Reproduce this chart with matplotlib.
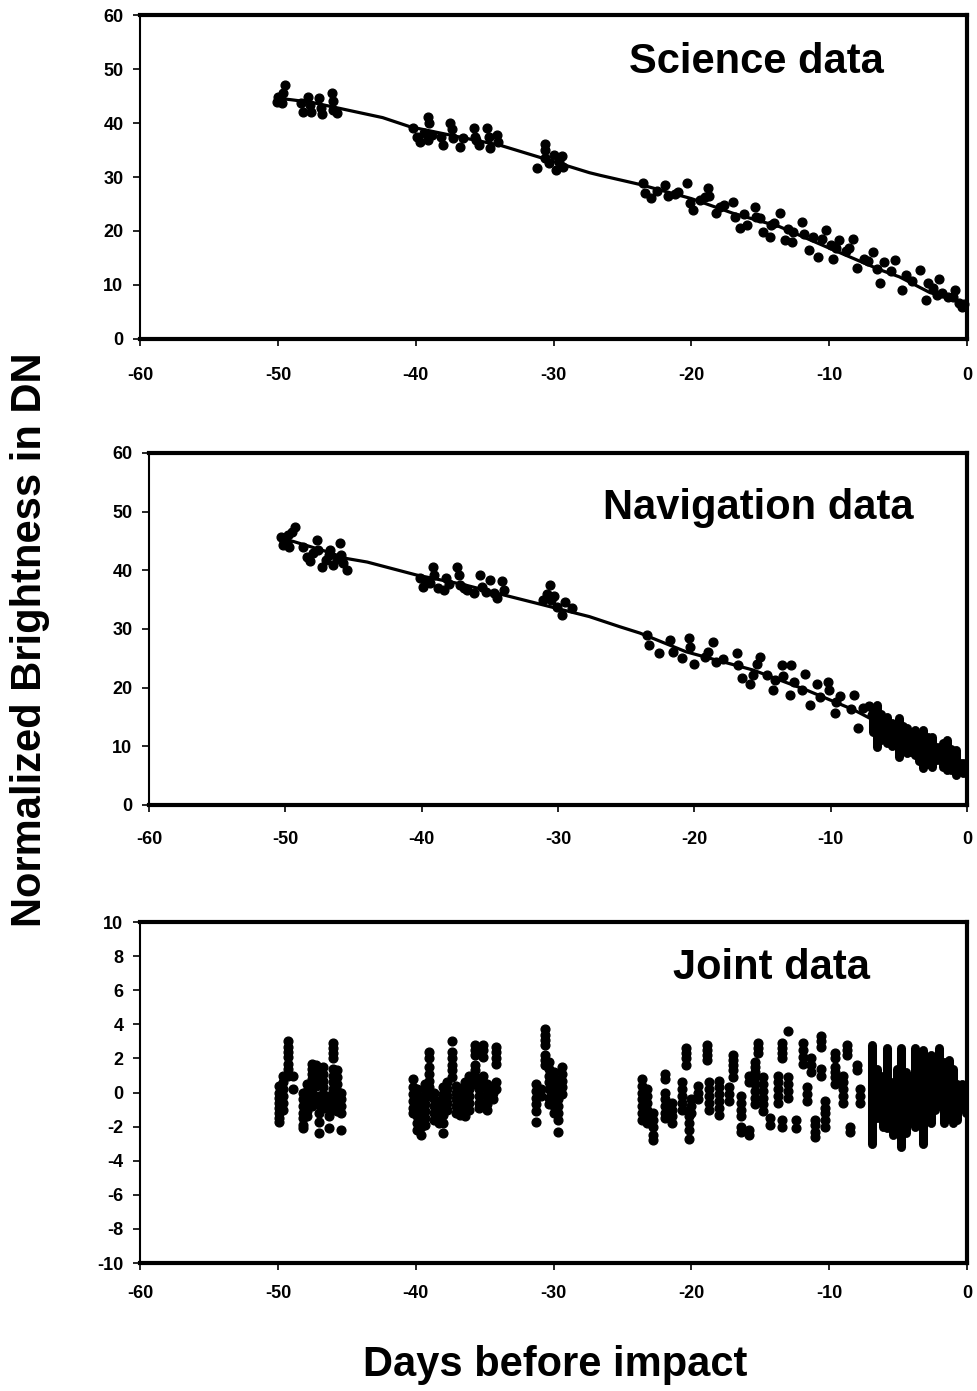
import matplotlib.pyplot as plt

plt.rcParams["font.family"] = ["Liberation Sans", "DejaVu Sans"]
plt.rcParams["font.weight"] = "bold"
plt.rcParams["axes.unicode_minus"] = False

day_ticks = [-60, -50, -40, -30, -20, -10, 0]
dn_ticks = [0, 10, 20, 30, 40, 50, 60]
joint_ticks = [-10, -8, -6, -4, -2, 0, 2, 4, 6, 8, 10]

# ---- science data (days before impact, DN) ----
sci_days = [
    -50.1, -50.0, -49.5, -49.6, -49.7, -48.3, -48.2, -47.8, -47.7, -47.6, -47.0, -46.9, -46.8, -46.1, -46.0, -46.0, -45.7,
    -40.2, -39.9, -39.7, -39.4, -39.1, -39.0, -39.1, -38.8, -38.2, -38.0, -37.5, -37.4, -37.3, -36.8, -36.6, -35.8, -35.7,
    -35.6, -35.4, -34.8, -34.7, -34.6, -34.1, -34.0,
    -31.2, -30.6, -30.6, -30.6, -30.3, -30.0, -29.8, -29.6, -29.4, -29.3,
    -23.5, -23.4, -22.9, -21.9, -21.7, -21.0, -20.3, -20.1, -19.9, -19.4, -18.8, -18.7, -18.2, -17.9, -17.0, -16.8, -16.5,
    -16.0, -15.4, -15.3, -14.8, -14.3, -14.2, -13.6, -13.2, -12.7, -12.6, -12.0, -11.5, -11.2, -10.8, -10.2, -9.9, -9.7,
    -9.3, -8.6, -8.3, -8.0, -7.5, -6.8, -6.3, -6.0, -5.2, -4.7, -4.4, -3.4, -3.0, -2.8, -2.2, -2.0, -1.4, -0.9, -0.6, -0.4,
    -22.5, -21.2, -19.0, -17.6, -16.2, -15.0, -14.0, -13.0, -11.8, -10.5, -9.5, -8.8, -7.2, -6.5, -5.5, -4.0, -2.5, -1.8,
    -1.0, -0.2,
]
sci_dn = [
    43.9, 44.9, 47.0, 45.5, 43.7, 43.7, 42.1, 44.9, 43.3, 42.1, 44.6, 42.8, 41.6, 45.5, 44.0, 42.5, 41.9,
    39.0, 37.4, 36.5, 38.1, 41.1, 40.0, 36.9, 37.8, 37.4, 36.0, 40.0, 38.8, 37.3, 35.6, 37.3, 39.0, 37.5,
    36.8, 35.9, 39.0, 37.5, 35.4, 37.8, 36.5,
    31.7, 36.2, 35.0, 33.6, 32.6, 34.0, 31.3, 32.8, 33.8, 31.9,
    28.8, 27.0, 26.1, 28.5, 26.4, 27.3, 28.8, 25.1, 23.9, 25.7, 27.9, 26.4, 23.3, 24.5, 25.4, 22.6, 20.5,
    21.1, 24.5, 22.6, 19.9, 18.9, 21.1, 23.3, 18.3, 18.0, 19.9, 21.7, 16.5, 18.9, 15.2, 20.2, 17.4, 14.9,
    18.3, 16.8, 18.6, 13.1, 14.9, 16.2, 10.3, 14.3, 14.6, 9.1, 11.9, 12.8, 7.2, 10.3, 8.1, 11.2, 7.8, 9.1, 6.6, 6.0,
    27.5, 26.8, 26.3, 24.9, 23.2, 22.5, 21.5, 20.4, 19.5, 18.5, 16.9, 16.3, 14.5, 13.0, 12.5, 10.8, 9.5, 8.5,
    7.8, 6.5,
]
sci_fit_days = [-50, -49, -47.5, -45.5, -42.4, -40.4, -37, -33.9, -31.2, -27.4, -26.6, -23.7, -20, -17,
                -13.6, -9.7, -6.3, -4.9, -2.7, -0.5, 0]
sci_fit_dn = [44.6, 44.3, 43.8, 42.7, 41.0, 39.3, 37.5, 35.9, 33.8, 30.8, 30.3, 28.6, 26.0, 23.3,
              20.8, 16.5, 12.8, 11.5, 8.6, 6.9, 6.3]

# ---- navigation data ----
nav_days = [
    -50.3, -50.2, -50.1, -49.8, -49.5, -49.3, -49.7, -48.7, -48.4, -48.2, -47.7, -47.6, -47.3, -46.8, -46.7, -46.5,
    -46.0, -45.9, -45.8, -45.5, -50.0, -49.9, -48.0, -47.0, -46.2,
    -40.1, -39.9, -39.6, -39.2, -39.1, -38.8, -38.4, -38.2, -37.4, -37.3, -37.2, -36.7, -36.2, -35.7, -35.6, -35.0,
    -34.7, -34.5, -34.1, -34.0, -39.4, -38.0, -36.9, -35.3,
    -31.1, -30.8, -30.6, -30.5, -30.1, -29.7, -29.5, -29.0, -30.3,
    -23.5, -23.3, -22.6, -21.8, -21.6, -20.9, -20.4, -20.3, -20.0, -19.2, -19.0, -18.6, -18.4, -17.9, -16.9, -16.8,
    -16.5, -15.9, -15.7, -15.4, -15.2, -14.7, -14.2, -14.1, -13.6, -13.5, -12.9, -13.0, -12.7, -12.1, -11.9, -11.5,
    -11.0, -10.8, -10.2, -10.1, -9.6, -9.3, -8.3, -8.5, -8.0, -7.6, -9.7, -7.2, -7.0,
]
nav_dn = [
    45.7, 44.3, 44.9, 46.0, 46.6, 47.4, 44.0, 44.0, 42.3, 41.5, 45.2, 43.5, 40.6, 42.6, 43.5, 40.9,
    44.6, 42.6, 41.3, 40.1, 45.2, 44.6, 42.9, 41.8, 41.9,
    38.6, 37.2, 38.0, 40.6, 39.2, 36.9, 36.6, 38.6, 40.6, 39.2, 37.5, 36.6, 36.1, 39.2, 37.2, 38.4,
    36.1, 35.2, 38.1, 36.6, 37.9, 37.7, 37.0, 36.3,
    34.9, 36.0, 37.5, 34.9, 33.8, 32.4, 34.6, 33.5, 35.6,
    29.0, 27.3, 25.9, 28.1, 26.1, 25.0, 28.4, 27.0, 24.1, 25.3, 26.1, 27.8, 24.4, 24.9, 25.9, 23.9,
    21.6, 20.7, 22.1, 24.1, 25.3, 22.2, 19.6, 21.3, 23.9, 21.9, 23.9, 18.7, 21.0, 19.6, 22.4, 17.0,
    20.7, 18.4, 21.0, 19.6, 17.6, 18.6, 18.7, 16.3, 13.1, 16.5, 15.6, 16.8, 15.4,
]
nav_fit_days = [-50, -49.4, -47, -45.5, -44.0, -40.4, -37, -34.0, -31.1, -27.7, -25.5, -24.0, -20.6,
                -15.7, -11.8, -8.3, -6.9, -3.4, 0]
nav_fit_dn = [45.2, 44.9, 43.2, 42.0, 41.4, 39.2, 37.6, 35.8, 34.1, 32.1, 30.4, 29.3, 26.1,
              23.0, 19.6, 16.2, 14.5, 10.5, 7.1]
# dense imaging in the last week (day, lowest DN, highest DN)
nav_band_days = [-6.9, -6.6, -6.3, -5.9, -5.5, -5.0, -4.7, -4.4, -4.1, -3.8, -3.5, -3.2, -2.9, -2.6,
                 -2.2, -1.8, -1.5, -1.2, -0.8, -0.3]
nav_band_lo = [12.5, 9.9, 11.0, 10.5, 10.0, 8.2, 9.5, 8.9, 9.0, 8.5, 7.5, 6.3, 7.0, 6.5,
               7.7, 6.5, 6.0, 6.0, 5.1, 5.4]
nav_band_hi = [16.5, 17.0, 15.5, 15.0, 14.0, 14.8, 13.5, 13.1, 12.5, 12.8, 12.0, 12.8, 11.5, 11.6,
               9.9, 10.5, 11.1, 9.5, 9.4, 7.1]

# ---- joint data: stacks of samples (day, [residuals]) ----
joint_stacks = [
    (-49.9, [0.4, 0.0, -0.3, -0.6, -0.9, -1.2, -1.5, -1.7]),
    (-49.6, [1.0, 0.6, 0.2, -0.2, -0.6, -1.0]),
    (-49.3, [3.0, 2.7, 2.4, 2.1, 1.7, 1.4, 1.0]),
    (-48.9, [1.0, 0.2]),
    (-48.2, [0.0, -0.4, -0.8, -1.2, -1.5, -1.9, -2.1]),
    (-47.9, [0.5, 0.1, -0.3, -0.7, -1.1, -1.4]),
    (-47.5, [1.7, 1.4, 1.1, 0.8, 0.4, 0.0, -0.4, -0.8]),
    (-47.2, [1.6, 1.2, 0.8, 0.4]),
    (-47.0, [-0.2, -0.7, -1.2, -1.7, -2.4]),
    (-46.7, [1.5, 1.1, 0.7, 0.3, -0.1, -0.5, -0.9]),
    (-46.3, [-0.2, -0.6, -1.0, -1.4, -2.1]),
    (-46.0, [2.9, 2.6, 2.3, 2.0, 1.4, 1.0, 0.6, 0.2, -0.2, -0.6]),
    (-45.7, [1.3, 0.9, 0.5, 0.1, -0.3, -0.7, -1.1]),
    (-45.4, [0.0, -0.4, -0.8, -1.2, -2.2]),
    (-40.2, [0.8, 0.3, -0.1, -0.5, -0.9, -1.2]),
    (-39.9, [0.2, -0.2, -0.6, -1.0, -1.4, -1.8, -2.2]),
    (-39.6, [-0.3, -0.8, -1.2, -1.6, -2.0, -2.5]),
    (-39.3, [0.5, 0.1, -0.3, -0.7, -1.1, -1.5, -1.9]),
    (-39.0, [2.4, 2.0, 1.5, 1.1, 0.7, 0.3, -0.1]),
    (-38.7, [0.0, -0.4, -0.8, -1.2, -1.6]),
    (-38.3, [-0.5, -1.0, -1.4, -1.8]),
    (-38.0, [0.3, -0.1, -0.5, -0.9, -1.3, -1.8, -2.4]),
    (-37.7, [0.6, 0.2, -0.2, -0.6, -1.0]),
    (-37.4, [3.0, 2.4, 2.0, 1.6, 1.3, 0.9]),
    (-37.1, [0.4, 0.0, -0.4, -0.8, -1.2]),
    (-36.8, [0.2, -0.2, -0.6, -1.0, -1.3]),
    (-36.4, [0.6, 0.2, -0.2, -0.6, -1.0, -1.4]),
    (-36.1, [1.0, 0.6, 0.2, -0.2, -0.6, -1.0]),
    (-35.7, [2.8, 2.5, 2.2, 1.6, 1.3, 0.9, 0.5]),
    (-35.4, [0.6, 0.2, -0.2, -0.6, -0.9]),
    (-35.1, [2.8, 2.5, 2.1, 1.0, 0.6]),
    (-34.8, [0.5, 0.1, -0.3, -0.7, -1.0]),
    (-34.4, [0.4, 0.0, -0.4]),
    (-34.2, [2.7, 2.4, 2.0, 1.7, 0.6, 0.2]),
    (-31.3, [0.5, 0.1, -0.3, -0.7, -1.1, -1.7]),
    (-30.9, [0.2, -0.2]),
    (-30.6, [3.7, 3.4, 3.1, 2.8, 2.2, 1.9, 1.6]),
    (-30.3, [1.8, 1.4, 1.0, 0.6, 0.2, -0.3, -0.7]),
    (-30.0, [1.2, 0.8, 0.4, 0.0, -0.4, -0.8, -1.2]),
    (-29.7, [0.4, 0.0, -0.4, -0.8, -1.2, -1.6, -2.3]),
    (-29.4, [1.5, 1.1, 0.7, 0.3, -0.1]),
    (-23.6, [0.8, 0.4, 0.0, -0.4, -0.8, -1.2, -1.6]),
    (-23.2, [0.2, -0.2, -0.6, -1.0, -1.4, -1.8]),
    (-22.8, [-1.2, -1.6, -2.0, -2.5, -2.8]),
    (-21.9, [1.1, 0.8, 0.0, -0.4, -0.8, -1.2, -1.5]),
    (-21.4, [-0.6, -1.0, -1.4, -1.8]),
    (-20.7, [0.6, 0.2, -0.2, -0.6, -1.0]),
    (-20.4, [2.6, 2.3, 2.0, 1.6]),
    (-20.2, [-1.0, -1.4, -1.8, -2.2, -2.7]),
    (-20.0, [-0.4, -0.8, -1.2]),
    (-19.5, [0.4, 0.0, -0.4]),
    (-18.9, [2.8, 2.5, 2.2, 1.9]),
    (-18.7, [0.6, 0.2, -0.2, -0.6, -1.0]),
    (-18.0, [0.7, 0.3, -0.1, -0.5, -0.9, -1.3]),
    (-17.3, [0.3, -0.1, -0.5]),
    (-17.0, [2.2, 1.9, 1.6, 1.3, 0.9]),
    (-16.4, [-0.2, -0.6, -1.0, -1.4, -2.0, -2.3]),
    (-15.8, [1.0, 0.6, -2.2, -2.5]),
    (-15.4, [1.8, 1.5, 1.2, 0.9, 0.5, 0.1, -0.3, -0.7]),
    (-15.2, [2.9, 2.6, 2.3]),
    (-14.8, [0.9, 0.5, 0.1, -0.3, -0.7, -1.1]),
    (-14.3, [-1.5, -1.9]),
    (-13.7, [1.0, 0.6, 0.2, -0.2, -0.6]),
    (-13.4, [2.9, 2.6, 2.3, 2.0, -1.6, -2.0]),
    (-13.0, [3.6, 0.9, 0.5, 0.1, -0.3]),
    (-12.4, [-1.6, -2.1]),
    (-11.9, [2.9, 2.5, 2.1, 1.7]),
    (-11.6, [0.3, -0.1, -0.5]),
    (-11.3, [2.0, 1.6, 1.2]),
    (-11.0, [-1.6, -1.9, -2.3, -2.6]),
    (-10.6, [3.3, 3.0, 2.7, 1.4, 1.0]),
    (-10.3, [-0.5, -0.9, -1.2, -1.6, -2.0]),
    (-9.6, [1.5, 1.2, 0.9, 0.5, 2.3, 2.0]),
    (-9.0, [1.0, 0.6, 0.2, -0.2, -0.6]),
    (-8.7, [2.8, 2.5, 2.2]),
    (-8.5, [-2.0, -2.3]),
    (-8.0, [1.6, 1.3]),
    (-7.8, [0.2, -0.2, -0.6]),
]
# dense imaging in the last week (day, lowest, highest residual)
joint_band_days = [-6.9, -6.5, -6.1, -5.8, -5.4, -5.1, -4.8, -4.4, -4.1, -3.8, -3.5, -3.2, -2.9, -2.6,
                   -2.3, -2.0, -1.7, -1.3, -1.0, -0.7, -0.4, -0.1]
joint_band_lo = [-3.0, -1.5, -2.0, -2.1, -2.5, -1.0, -3.2, -2.4, -1.5, -2.0, -1.5, -3.0, -1.3, -1.8,
                 -1.0, -0.5, -1.8, -1.2, -1.8, -1.6, -0.8, -1.2]
joint_band_hi = [2.8, 1.4, 1.0, 2.6, 0.6, 1.4, 2.6, 1.2, 0.8, 2.6, 2.0, 2.5, 1.5, 2.2,
                 0.6, 2.6, 1.8, 1.9, 1.4, 0.5, 0.5, 0.4]

joint_days = [d for d, ys in joint_stacks for _ in ys]
joint_res = [y for _, ys in joint_stacks for y in ys]


def style_axes(ax, yticks, xpad):
    ax.set_xlim(-60, 0)
    ax.set_xticks(day_ticks)
    ax.set_yticks(yticks)
    ax.set_ylim(yticks[0], yticks[-1])
    for side in ["top", "right", "bottom"]:
        ax.spines[side].set_linewidth(3)
    ax.spines["left"].set_linewidth(1.5)
    ax.tick_params(axis="both", direction="out", length=5, width=1.2, labelsize=13)
    ax.tick_params(axis="x", pad=xpad)
    ax.tick_params(axis="y", pad=7)


fig = plt.figure(figsize=(9.78, 13.91), dpi=100)

dot = dict(linestyle="none", marker="o", markersize=6.3, color="black", clip_on=False)

ax1 = fig.add_axes([0.1432, 0.7563, 0.8456, 0.2329])
ax1.plot(sci_days, sci_dn, **dot)
ax1.plot(sci_fit_days, sci_fit_dn, color="black", linewidth=2.3)
style_axes(ax1, dn_ticks, 15)
ax1.text(0.745, 0.855, "Science data", transform=ax1.transAxes, ha="center", va="center",
         fontsize=30, fontweight="bold")

ax2 = fig.add_axes([0.1524, 0.4213, 0.8364, 0.2531])
ax2.plot(nav_days, nav_dn, **dot)
ax2.vlines(nav_band_days, nav_band_lo, nav_band_hi, color="black", linewidth=6.5, capstyle="round")
ax2.plot(nav_fit_days, nav_fit_dn, color="black", linewidth=2.3)
style_axes(ax2, dn_ticks, 14)
ax2.text(0.745, 0.844, "Navigation data", transform=ax2.transAxes, ha="center", va="center",
         fontsize=30, fontweight="bold")

ax3 = fig.add_axes([0.1432, 0.0920, 0.8456, 0.2451])
ax3.plot(joint_days, joint_res, **dot)
ax3.vlines(joint_band_days, joint_band_lo, joint_band_hi, color="black", linewidth=6.5, capstyle="round")
style_axes(ax3, joint_ticks, 11)
ax3.text(0.763, 0.865, "Joint data", transform=ax3.transAxes, ha="center", va="center",
         fontsize=30, fontweight="bold")

fig.text(0.031, 0.54, "Normalized Brightness in DN", rotation=90, ha="center", va="center",
         fontsize=30, fontweight="bold")
fig.text(0.568, 0.0187, "Days before impact", ha="center", va="center", fontsize=30, fontweight="bold")

fig.savefig("out.png", dpi=100)
